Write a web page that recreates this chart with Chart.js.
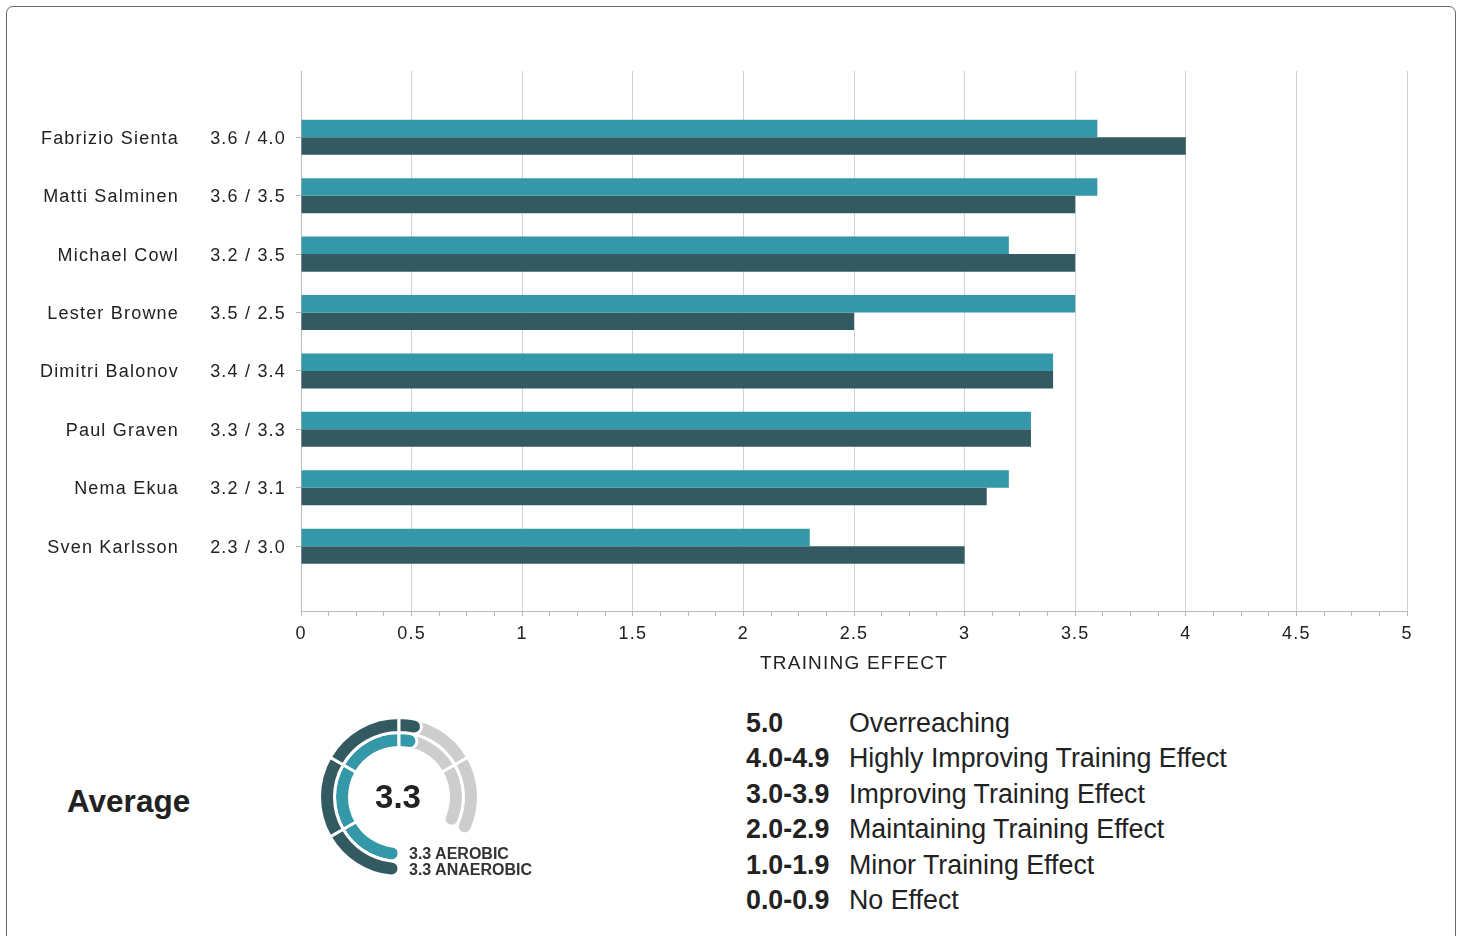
<!DOCTYPE html>
<html>
<head>
<meta charset="utf-8">
<script src="https://cdn.jsdelivr.net/npm/chart.js@4.4.1/dist/chart.umd.min.js"></script>
<style>
  html, body { margin:0; padding:0; background:#fff; width:1462px; height:936px; overflow:hidden;
    font-family:'Liberation Sans', Arial, Helvetica, sans-serif; color:#222; }
  #frame { position:absolute; left:6px; top:6px; width:1450px; height:1000px; box-sizing:border-box;
    border:1.5px solid #666; border-radius:7px; }
  canvas { position:absolute; }
  #bars { left:0; top:0; }
  #gaugeBg, #gaugeFill { left:309px; top:707px; }
  .t { position:absolute; white-space:nowrap; }
  #avg { left:67px; top:781px; font-size:31.5px; line-height:40px; font-weight:bold; color:#222; }
  #gval { left:348px; width:100px; text-align:center; top:777px; font-size:33px; line-height:40px; font-weight:bold; color:#222; }
  #gaer, #gana { left:409px; font-size:16px; line-height:18px; font-weight:bold; color:#333; }
  #gaer { top:845px; }
  #gana { top:861px; }
  #legend { position:absolute; left:746px; top:705.5px; }
  .row { height:35.6px; line-height:35.6px; font-size:26.8px; white-space:nowrap; color:#222; }
  .row .r { display:inline-block; width:103px; font-weight:bold; }
</style>
</head>
<body>
<div id="frame"></div>
<canvas id="bars" width="1462" height="700"></canvas>
<canvas id="gaugeBg" width="180" height="180"></canvas>
<canvas id="gaugeFill" width="180" height="180"></canvas>
<div class="t" id="avg">Average</div>
<div class="t" id="gval"></div>
<div class="t" id="gaer"></div>
<div class="t" id="gana"></div>
<div id="legend"></div>
<script>
// ---------- data ----------
const athletes = ['Fabrizio Sienta', 'Matti Salminen', 'Michael Cowl', 'Lester Browne',
                  'Dimitri Balonov', 'Paul Graven', 'Nema Ekua', 'Sven Karlsson'];
const aerobic   = [3.6, 3.6, 3.2, 3.5, 3.4, 3.3, 3.2, 2.3];
const anaerobic = [4.0, 3.5, 3.5, 2.5, 3.4, 3.3, 3.1, 3.0];
const xTickValues = [0, 0.5, 1, 1.5, 2, 2.5, 3, 3.5, 4, 4.5, 5];
const axisTitle = 'TRAINING EFFECT';

const avgOverall = 3.3;
const avgAerobic = 3.3;
const avgAnaerobic = 3.3;
const gaugeSegments = [1, 1, 1, 1, 1];

const legendRanges = ['5.0', '4.0-4.9', '3.0-3.9', '2.0-2.9', '1.0-1.9', '0.0-0.9'];
const legendLabels = ['Overreaching', 'Highly Improving Training Effect', 'Improving Training Effect',
                      'Maintaining Training Effect', 'Minor Training Effect', 'No Effect'];

// ---------- styles ----------
const TEAL = '#3498a9', DARK = '#345a61', GRAY = '#cdcdcd';
Chart.defaults.font.family = "'Liberation Sans', Arial, Helvetica, sans-serif";
Chart.defaults.color = '#222';

const letterSpacingPlugin = {
  id: 'letterSpacing',
  beforeUpdate(chart) { chart.ctx.letterSpacing = '1.2px'; },
  beforeDraw(chart) { chart.ctx.letterSpacing = '1.2px'; }
};

const Y_MIN = -1.135, Y_MAX = athletes.length - 1 + 1.11;
const indexTicks = axis => { axis.ticks = athletes.map((_, i) => ({ value: i })); };
const majorStep = xTickValues[1] - xTickValues[0];
const isMajor = v => Math.abs(v / majorStep - Math.round(v / majorStep)) < 1e-6;
const MINOR_PER_MAJOR = 4;

new Chart(document.getElementById('bars'), {
  type: 'bar',
  data: {
    datasets: [
      { label: 'Aerobic', data: aerobic.map((v, i) => ({ x: v, y: i })), backgroundColor: TEAL, xAxisID: 'x', yAxisID: 'y' },
      { label: 'Anaerobic', data: anaerobic.map((v, i) => ({ x: v, y: i })), backgroundColor: DARK, xAxisID: 'x', yAxisID: 'y' }
    ]
  },
  options: {
    indexAxis: 'y',
    responsive: false,
    animation: false,
    events: [],
    categoryPercentage: 0.6,
    barPercentage: 1.0,
    layout: { padding: { left: 0, right: 55, top: 71, bottom: 0 } },
    plugins: { legend: { display: false }, tooltip: { enabled: false } },
    scales: {
      x: {
        type: 'linear', position: 'bottom', offset: false,
        min: xTickValues[0], max: xTickValues[xTickValues.length - 1],
        afterBuildTicks: axis => {
          const t = [];
          for (let k = 0; k < xTickValues.length; k++) {
            t.push({ value: xTickValues[k] });
            if (k < xTickValues.length - 1) {
              for (let m = 1; m < MINOR_PER_MAJOR; m++) {
                t.push({ value: xTickValues[k] + (xTickValues[k + 1] - xTickValues[k]) * m / MINOR_PER_MAJOR });
              }
            }
          }
          axis.ticks = t.sort((a, b) => a.value - b.value);
        },
        afterFit: axis => { axis.height = 89; },
        ticks: { autoSkip: false, maxRotation: 0, padding: 7, font: { size: 18 }, color: '#222',
                 callback: v => isMajor(v) ? String(v) : '' },
        grid: { offset: false, color: c => (c.tick && isMajor(c.tick.value)) ? '#d2d2d2' : 'rgba(0,0,0,0)',
                tickColor: '#b5b5b5', tickLength: 5, lineWidth: 1 },
        border: { color: '#b9b9b9' },
        title: { display: true, text: axisTitle, font: { size: 19 }, color: '#222', padding: { top: 0, bottom: 25 } }
      },
      y: {
        type: 'linear', position: 'left', min: Y_MIN, max: Y_MAX, reverse: true, weight: 0, offset: false,
        afterBuildTicks: indexTicks,
        afterFit: axis => { axis.width = 111; },
        ticks: { autoSkip: false, padding: 10, labelOffset: 1.5, font: { size: 18 }, color: '#222',
                 callback: v => { const i = Math.round(v); return aerobic[i].toFixed(1) + ' / ' + anaerobic[i].toFixed(1); } },
        grid: { offset: false, drawOnChartArea: false, drawTicks: true, tickLength: 5, color: '#b5b5b5' },
        border: { display: true, color: '#b9b9b9' }
      },
      yNames: {
        type: 'linear', position: 'left', min: Y_MIN, max: Y_MAX, reverse: true, weight: 1, offset: false,
        afterBuildTicks: indexTicks,
        afterFit: axis => { axis.width = 190; },
        ticks: { autoSkip: false, padding: 11, labelOffset: 1.5, font: { size: 18 }, color: '#222',
                 callback: v => athletes[Math.round(v)] },
        grid: { offset: false, display: false, drawTicks: false },
        border: { display: false }
      }
    }
  },
  plugins: [letterSpacingPlugin]
});

// ---------- gauge ----------
const CAP = 7.5;
const BW = 3;
function gaugeChart(id, datasets) {
  return new Chart(document.getElementById(id), {
    type: 'doughnut',
    data: { datasets },
    options: {
      responsive: false, animation: false, events: [],
      rotation: 180, circumference: 300, cutout: '62.26%',
      layout: { padding: 9 },
      plugins: { legend: { display: false }, tooltip: { enabled: false } }
    }
  });
}
const lastSeg = gaugeSegments.length - 1;
const bgRadius = c => {
  const s = c.dataIndex === 0 ? CAP : 0, e = c.dataIndex === lastSeg ? CAP : 0;
  return { outerStart: s, innerStart: s, outerEnd: e, innerEnd: e };
};
gaugeChart('gaugeBg', [0, 1].map(() => ({
  data: gaugeSegments, backgroundColor: GRAY, borderColor: '#fff',
  borderWidth: BW, hoverBorderWidth: BW, borderRadius: bgRadius
})));

function fillSegments(value) {
  const segs = [];
  let rest = value;
  for (const s of gaugeSegments) {
    if (rest <= 1e-9) break;
    const f = Math.min(s, rest);
    segs.push(Math.round(f * 1e6) / 1e6);
    rest -= f;
  }
  const total = gaugeSegments.reduce((a, b) => a + b, 0);
  segs.push(Math.round((total - value) * 1e6) / 1e6);
  return segs;
}
function fillDataset(value, color) {
  const data = fillSegments(value);
  const n = data.length - 1;
  return {
    data,
    backgroundColor: c => c.dataIndex < n ? color : 'rgba(0,0,0,0)',
    borderColor: '#fff',
    borderWidth: c => c.dataIndex < n ? BW : 0,
    hoverBorderWidth: c => c.dataIndex < n ? BW : 0,
    borderRadius: c => {
      const s = c.dataIndex === 0 ? CAP : 0, e = c.dataIndex === n - 1 ? CAP : 0;
      return { outerStart: s, innerStart: s, outerEnd: e, innerEnd: e };
    }
  };
}
gaugeChart('gaugeFill', [fillDataset(avgAnaerobic, DARK), fillDataset(avgAerobic, TEAL)]);

document.getElementById('gval').textContent = avgOverall.toFixed(1);
document.getElementById('gaer').textContent = avgAerobic.toFixed(1) + ' AEROBIC';
document.getElementById('gana').textContent = avgAnaerobic.toFixed(1) + ' ANAEROBIC';

// ---------- legend ----------
const legend = document.getElementById('legend');
legendRanges.forEach((r, i) => {
  const row = document.createElement('div');
  row.className = 'row';
  const a = document.createElement('span'); a.className = 'r'; a.textContent = r;
  const b = document.createElement('span'); b.textContent = legendLabels[i];
  row.appendChild(a); row.appendChild(b);
  legend.appendChild(row);
});
</script>
</body>
</html>
